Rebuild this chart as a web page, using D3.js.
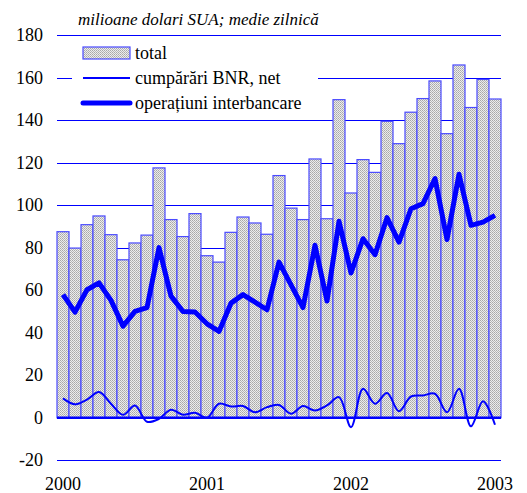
<!DOCTYPE html>
<html>
<head>
<meta charset="utf-8">
<script src="https://cdn.jsdelivr.net/npm/d3@7"></script>
<style>
  body { margin: 0; background: #fff; }
</style>
</head>
<body>
<svg width="527" height="493"></svg>
<script>
// lunile, ianuarie 2000 - ianuarie 2003
var months = ["2000-01","2000-02","2000-03","2000-04","2000-05","2000-06","2000-07","2000-08","2000-09","2000-10","2000-11","2000-12",
              "2001-01","2001-02","2001-03","2001-04","2001-05","2001-06","2001-07","2001-08","2001-09","2001-10","2001-11","2001-12",
              "2002-01","2002-02","2002-03","2002-04","2002-05","2002-06","2002-07","2002-08","2002-09","2002-10","2002-11","2002-12",
              "2003-01"];

var total = [87.5, 79.8, 90.8, 94.9, 86.1, 74.3, 82.2, 85.9, 117.5, 93.2, 85.2, 96.0,
             76.2, 73.2, 87.2, 94.4, 91.6, 86.3, 113.9, 98.6, 93.2, 121.7, 93.6, 149.6,
             105.7, 121.4, 115.4, 139.4, 128.9, 143.7, 150.1, 158.4, 133.6, 165.9, 145.9, 159.1,
             149.9];

var bnr = [9.1, 6.3, 8.5, 12.1, 6.6, 1.4, 5.8, -1.9, -0.5, 3.8, 1.4, 2.4,
           0.0, 6.6, 5.3, 5.5, 2.6, 5.0, 6.0, 1.9, 5.5, 3.4, 5.8, 9.7,
           -4.4, 13.6, 6.6, 11.6, 3.1, 10.0, 10.5, 11.3, 2.6, 13.6, -4.0, 7.8,
           -3.3];

var interbancare = [57.9, 49.7, 60.2, 63.4, 55.2, 43.1, 50.0, 51.8, 80.0, 57.2, 50.0, 49.7,
                    44.2, 40.6, 53.9, 57.9, 54.4, 50.8, 73.2, 62.5, 51.8, 81.1, 54.9, 92.4,
                    68.1, 84.2, 76.7, 94.1, 82.6, 98.3, 100.7, 112.5, 83.8, 114.5, 90.5, 92.0,
                    95.2];

var yTicks = [-20, 0, 20, 40, 60, 80, 100, 120, 140, 160, 180];
var yearTicks = ["2000-01", "2001-01", "2002-01", "2003-01"];

var svg = d3.select("svg");
var blue = "#0000ff";
var font = "Liberation Serif";

var x = d3.scaleBand().domain(months).range([57, 501]).padding(0);
var y = d3.scaleLinear().domain([-20, 180]).range([460.3, 35]);
var cx = function(d, i) { return x(months[i]) + x.bandwidth() / 2; };
var crisp = function(v) { return Math.round(v) + 0.5; };

// patroon voor de staven (fijn gespikkeld grijs)
var defs = svg.append("defs");
var pat = defs.append("pattern")
  .attr("id", "dots")
  .attr("width", 2).attr("height", 2)
  .attr("patternUnits", "userSpaceOnUse");
pat.append("rect").attr("width", 2).attr("height", 2).attr("fill", "#ececec");
pat.append("rect").attr("width", 1).attr("height", 1).attr("fill", "#a8a8a8");
pat.append("rect").attr("x", 1).attr("y", 1).attr("width", 1).attr("height", 1).attr("fill", "#b8b8b8");

// rasterlijnen
svg.append("g")
  .selectAll("line")
  .data(yTicks.filter(function(d) { return d !== 0; }))
  .enter().append("line")
  .attr("x1", 57).attr("x2", 501)
  .attr("y1", function(d) { return crisp(y(d)); })
  .attr("y2", function(d) { return crisp(y(d)); })
  .attr("stroke", blue)
  .attr("stroke-width", 1)
  .attr("shape-rendering", "crispEdges");

// staven
svg.append("g")
  .selectAll("rect")
  .data(total)
  .enter().append("rect")
  .attr("x", function(d, i) { return x(months[i]); })
  .attr("y", function(d) { return y(d); })
  .attr("width", x.bandwidth())
  .attr("height", function(d) { return y(0) - y(d); })
  .attr("fill", "url(#dots)")
  .attr("stroke", "#4a4aff")
  .attr("stroke-width", 1.2);

// nullijn
svg.append("line")
  .attr("x1", 57).attr("x2", 501)
  .attr("y1", y(0)).attr("y2", y(0))
  .attr("stroke", blue)
  .attr("stroke-width", 2.5);

// dunne lijn: cumparari BNR
var thin = d3.line()
  .x(cx)
  .y(function(d) { return y(d); })
  .curve(d3.curveCatmullRom.alpha(0.5));

svg.append("path")
  .datum(bnr)
  .attr("d", thin)
  .attr("fill", "none")
  .attr("stroke", blue)
  .attr("stroke-width", 2);

// dikke lijn: operatiuni interbancare
var thick = d3.line()
  .x(cx)
  .y(function(d) { return y(d); });

svg.append("path")
  .datum(interbancare)
  .attr("d", thick)
  .attr("fill", "none")
  .attr("stroke", blue)
  .attr("stroke-width", 5)
  .attr("stroke-linejoin", "round");

// y-as labels
svg.append("g")
  .selectAll("text")
  .data(yTicks)
  .enter().append("text")
  .attr("x", 43)
  .attr("y", function(d) { return y(d) + 6; })
  .attr("text-anchor", "end")
  .attr("font-family", font)
  .attr("font-size", 18)
  .text(function(d) { return d; });

// x-as labels (jaren)
svg.append("g")
  .selectAll("text")
  .data(yearTicks)
  .enter().append("text")
  .attr("x", function(d) { return x(d) + x.bandwidth() / 2; })
  .attr("y", 490)
  .attr("text-anchor", "middle")
  .attr("font-family", font)
  .attr("font-size", 18)
  .text(function(d) { return d.slice(0, 4); });

// titel
svg.append("text")
  .attr("x", 78)
  .attr("y", 25)
  .attr("font-family", font)
  .attr("font-size", 17)
  .attr("font-style", "italic")
  .text("milioane dolari SUA; medie zilnică");

// legenda
var legend = svg.append("g");
legend.append("rect")
  .attr("x", 72).attr("y", 40)
  .attr("width", 246).attr("height", 75)
  .attr("fill", "#fff");

legend.append("rect")
  .attr("x", 83).attr("y", 47)
  .attr("width", 47).attr("height", 12)
  .attr("fill", "url(#dots)")
  .attr("stroke", "#4a4aff")
  .attr("stroke-width", 1.2);

legend.append("line")
  .attr("x1", 83).attr("x2", 130)
  .attr("y1", 78).attr("y2", 78)
  .attr("stroke", blue).attr("stroke-width", 2);

legend.append("line")
  .attr("x1", 83).attr("x2", 130)
  .attr("y1", 103).attr("y2", 103)
  .attr("stroke", blue).attr("stroke-width", 5)
  .attr("stroke-linecap", "round");

var labels = ["total", "cumpărări BNR, net", "operațiuni interbancare"];
legend.selectAll("text.lbl")
  .data(labels)
  .enter().append("text")
  .attr("class", "lbl")
  .attr("x", 135)
  .attr("y", function(d, i) { return 59 + i * 25; })
  .attr("font-family", font)
  .attr("font-size", 18)
  .text(function(d) { return d; });
</script>
</body>
</html>
